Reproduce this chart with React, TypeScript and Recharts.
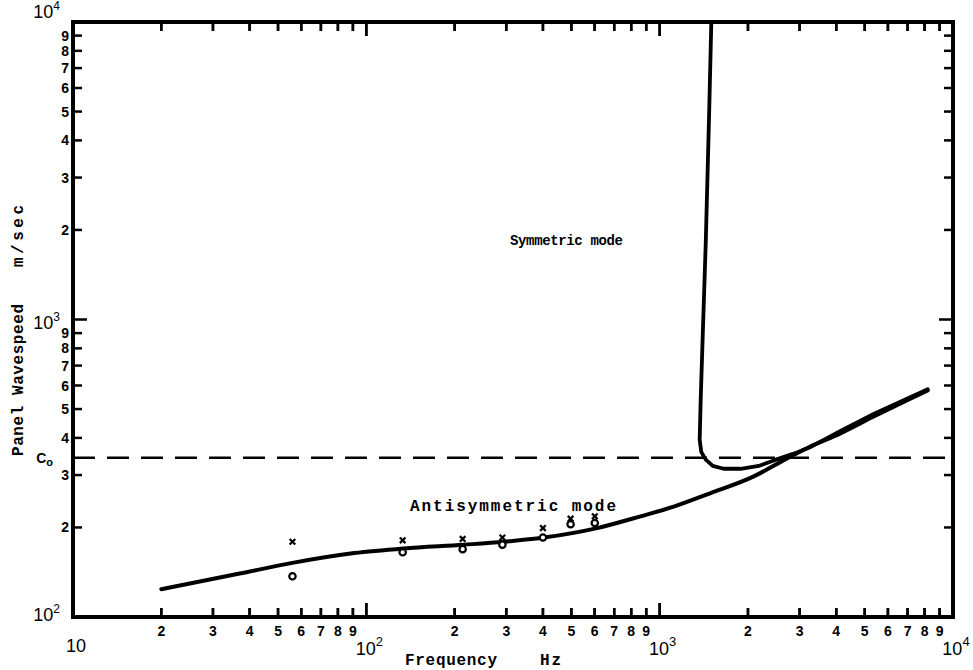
import React from 'react';
import { ComposedChart, Line, Scatter, XAxis, YAxis, ReferenceLine, ReferenceArea } from 'recharts';

// ---- data ----
const xTicks = [10, 20, 30, 40, 50, 60, 70, 80, 90, 100, 200, 300, 400, 500, 600, 700, 800, 900, 1000, 2000, 3000, 4000, 5000, 6000, 7000, 8000, 9000, 10000];
const C0 = 343;
const yTicks = [100, 200, 300, C0, 400, 500, 600, 700, 800, 900, 1000, 2000, 3000, 4000, 5000, 6000, 7000, 8000, 9000, 10000];

const antisymFreq = [20, 37, 56, 91, 134, 215, 294, 403, 612, 861, 1117, 1493, 2094, 2730, 3190, 4150, 5385, 8200];
const antisymSpeed = [124, 140, 152, 164, 170, 175, 179, 185, 199, 218, 235, 261, 297, 342, 370, 415, 473, 578];

const symFreq = [1500, 1475, 1436, 1403, 1380, 1369, 1386, 1436, 1517, 1652, 1888, 2177, 2449, 2865, 3273, 4150, 5385, 8200];
const symSpeed = [10000, 5000, 1817, 900, 538, 394, 359, 338, 322, 315, 315, 322, 336, 354, 373, 423, 482, 583];

const crossFreq = [56, 133, 213, 291, 400, 497, 601];
const crossSpeed = [179, 181, 183, 185, 199, 214, 218];
const circleFreq = [56, 133, 213, 291, 400, 497, 601];
const circleSpeed = [137, 165, 169, 175, 185, 205, 207];

const zip = (f: number[], v: number[]) => f.map((x, i) => ({ f: x, v: v[i] }));
const antisymData = zip(antisymFreq, antisymSpeed);
const symData = zip(symFreq, symSpeed);
const crossData = zip(crossFreq, crossSpeed);
const circleData = zip(circleFreq, circleSpeed);

// ---- styles ----
const W = 973, H = 670;
const MARGIN = { top: 21, right: 19, bottom: 52, left: 72 };
const PLOT_TOP = MARGIN.top + 1;
const DIGIT_FONT = '"Liberation Sans", Arial, sans-serif';
const MONO = '"Liberation Mono", "DejaVu Sans Mono", monospace';
const MINOR = 9, MAJOR = 14;
const PX_PER_DECADE_Y = 297;
const Y_MIN = 100, Y_MAX = 10000;

const decomp = (v: number) => {
  const e = Math.floor(Math.log10(v) + 1e-9);
  const d = Math.round(v / Math.pow(10, e));
  return { e, d };
};

const BottomTick = (p: any) => {
  const { x, y, payload } = p;
  const v = payload.value;
  const { e, d } = decomp(v);
  const major = d === 1;
  const len = major ? MAJOR : MINOR;
  const marks = v !== 10 && v !== 10000 ? (
    <g>
      <rect x={x - 1.25} y={y - len} width={2.5} height={len} fill="#000" />
      <rect x={x - 1.25} y={PLOT_TOP} width={2.5} height={len} fill="#000" />
    </g>
  ) : null;
  if (v === 10) {
    return <text x={x + 3} y={y + 35} textAnchor="middle" fontFamily={DIGIT_FONT} fontSize={18} fill="#000">10</text>;
  }
  if (major) {
    return (
      <g>
        {marks}
        <text x={x + 3} y={y + 38} textAnchor="middle" fontFamily={DIGIT_FONT} fontSize={18} fill="#000">
          10<tspan dy={-9} fontSize={13}>{e}</tspan>
        </text>
      </g>
    );
  }
  return (
    <g>
      {marks}
      <text x={x} y={y + 19} textAnchor="middle" fontFamily={DIGIT_FONT} fontSize={14} fontWeight="bold" fill="#000">{d}</text>
    </g>
  );
};

const LeftTick = (p: any) => {
  const { x, y, payload } = p;
  const v = payload.value;
  if (v === C0) {
    return (
      <text x={x - 20} y={y + 5} textAnchor="end" fontFamily={DIGIT_FONT} fontSize={14} fontWeight="bold" fill="#000">
        C<tspan dy={3} fontSize={11}>o</tspan>
      </text>
    );
  }
  const { e, d } = decomp(v);
  const major = d === 1;
  if (major) {
    const base = v === 100 ? y + 4 : v === 10000 ? y - 4 : y + 9;
    return (
      <g>
        {v === 1000 && <line x1={x} x2={x + MAJOR} y1={y} y2={y} stroke="#000" strokeWidth={2.5} />}
        <text x={x - 13} y={base} textAnchor="end" fontFamily={DIGIT_FONT} fontSize={18} fill="#000">
          10<tspan dy={-8} fontSize={12}>{e}</tspan>
        </text>
      </g>
    );
  }
  return (
    <g>
      <line x1={x} x2={x + MINOR} y1={y} y2={y} stroke="#000" strokeWidth={2.5} />
      <text x={x - 4} y={y + 5} textAnchor="end" fontFamily={DIGIT_FONT} fontSize={14} fontWeight="bold" fill="#000">{d}</text>
    </g>
  );
};

const RightTick = (p: any) => {
  const { x, y, payload } = p;
  const v = payload.value;
  if (v === C0 || v === 100 || v === 10000) return <g />;
  const { d } = decomp(v);
  return <line x1={x} x2={x - (d === 1 ? MAJOR : MINOR)} y1={y} y2={y} stroke="#000" strokeWidth={2.5} />;
};

const CrossShape = (p: any) => {
  const { cx, cy } = p;
  const s = 2.8;
  return (
    <g>
      <line x1={cx - s} y1={cy - s} x2={cx + s} y2={cy + s} stroke="#000" strokeWidth={2.2} />
      <line x1={cx - s} y1={cy + s} x2={cx + s} y2={cy - s} stroke="#000" strokeWidth={2.2} />
    </g>
  );
};

const CircleShape = (p: any) => {
  const { cx, cy } = p;
  return <circle cx={cx} cy={cy} r={3.2} fill="#fff" stroke="#000" strokeWidth={2.2} />;
};

const innerXTicks = xTicks.filter((v) => v !== 10 && v !== 10000);
const tickFactor = (v: number) => Math.pow(10, (decomp(v).d === 1 ? MAJOR : MINOR) / PX_PER_DECADE_Y);

export default function App() {
  return (
    <div style={{ position: 'absolute', left: 0, top: 0, width: W, height: H, background: '#fff' }}>
      <ComposedChart width={W} height={H} margin={MARGIN}>
        <XAxis xAxisId="b" dataKey="f" type="number" scale="log" domain={[10, 10000]} allowDataOverflow
          ticks={xTicks} interval={0} orientation="bottom" height={1} tickSize={0} tickMargin={0}
          tickLine={false} axisLine={false} tick={<BottomTick />} />
        <XAxis xAxisId="t" dataKey="f" type="number" scale="log" domain={[10, 10000]} allowDataOverflow
          ticks={xTicks} interval={0} orientation="top" height={1} tickSize={0} tickMargin={0}
          tickLine={false} axisLine={false} tick={false} />
        <YAxis yAxisId="l" dataKey="v" type="number" scale="log" domain={[Y_MIN, Y_MAX]} allowDataOverflow
          ticks={yTicks} interval={0} orientation="left" width={1} tickSize={0} tickMargin={0}
          tickLine={false} axisLine={false} tick={<LeftTick />} />
        <YAxis yAxisId="r" dataKey="v" type="number" scale="log" domain={[Y_MIN, Y_MAX]} allowDataOverflow
          ticks={yTicks} interval={0} orientation="right" width={1} tickSize={0} tickMargin={0}
          tickLine={false} axisLine={false} tick={<RightTick />} />
        {innerXTicks.map((v) => (
          <ReferenceLine key={'b' + v} xAxisId="b" yAxisId="l" ifOverflow="visible" stroke="#000" strokeWidth={2.5}
            segment={[{ x: v, y: Y_MIN }, { x: v, y: Y_MIN * tickFactor(v) }]} />
        ))}
        {innerXTicks.map((v) => (
          <ReferenceLine key={'t' + v} xAxisId="b" yAxisId="l" ifOverflow="visible" stroke="#000" strokeWidth={2.5}
            segment={[{ x: v, y: Y_MAX }, { x: v, y: Y_MAX / tickFactor(v) }]} />
        ))}
        <ReferenceArea xAxisId="b" yAxisId="l" x1={10} x2={10000} y1={Y_MIN} y2={Y_MAX}
          fill="none" fillOpacity={0} stroke="#000" strokeWidth={4} ifOverflow="visible" />
        <ReferenceLine xAxisId="b" yAxisId="l" y={C0} stroke="#000" strokeWidth={2.5} strokeDasharray="22 12" />
        <Line xAxisId="b" yAxisId="l" data={antisymData} dataKey="v" type="monotone" stroke="#000"
          strokeWidth={4} dot={false} isAnimationActive={false} strokeLinecap="round" />
        <Line xAxisId="b" yAxisId="l" data={symData} dataKey="v" type="linear" stroke="#000"
          strokeWidth={3.8} dot={false} isAnimationActive={false} strokeLinecap="round" strokeLinejoin="round" />
        <Scatter xAxisId="b" yAxisId="l" data={circleData} dataKey="v" shape={<CircleShape />} isAnimationActive={false} />
        <Scatter xAxisId="b" yAxisId="l" data={crossData} dataKey="v" shape={<CrossShape />} isAnimationActive={false} />
      </ComposedChart>
      <svg width={W} height={H} style={{ position: 'absolute', left: 0, top: 0, pointerEvents: 'none' }}>
        <g fontFamily={MONO} fontWeight="bold" fill="#000">
          <text x={510} y={245} fontSize={14} textLength={113} lengthAdjust="spacing">Symmetric mode</text>
          <text x={410} y={511} fontSize={16} textLength={206} lengthAdjust="spacing">Antisymmetric mode</text>
          <text x={405} y={665} fontSize={16} textLength={92} lengthAdjust="spacing">Frequency</text>
          <text x={540} y={665} fontSize={16} textLength={21} lengthAdjust="spacing">Hz</text>
          <text transform="translate(23,380) rotate(-90)" fontSize={16} textAnchor="middle" textLength={152} lengthAdjust="spacing">Panel Wavespeed</text>
          <text transform="translate(23,236) rotate(-90)" fontSize={16} textAnchor="middle" textLength={62} lengthAdjust="spacing">m/sec</text>
        </g>
      </svg>
    </div>
  );
}
